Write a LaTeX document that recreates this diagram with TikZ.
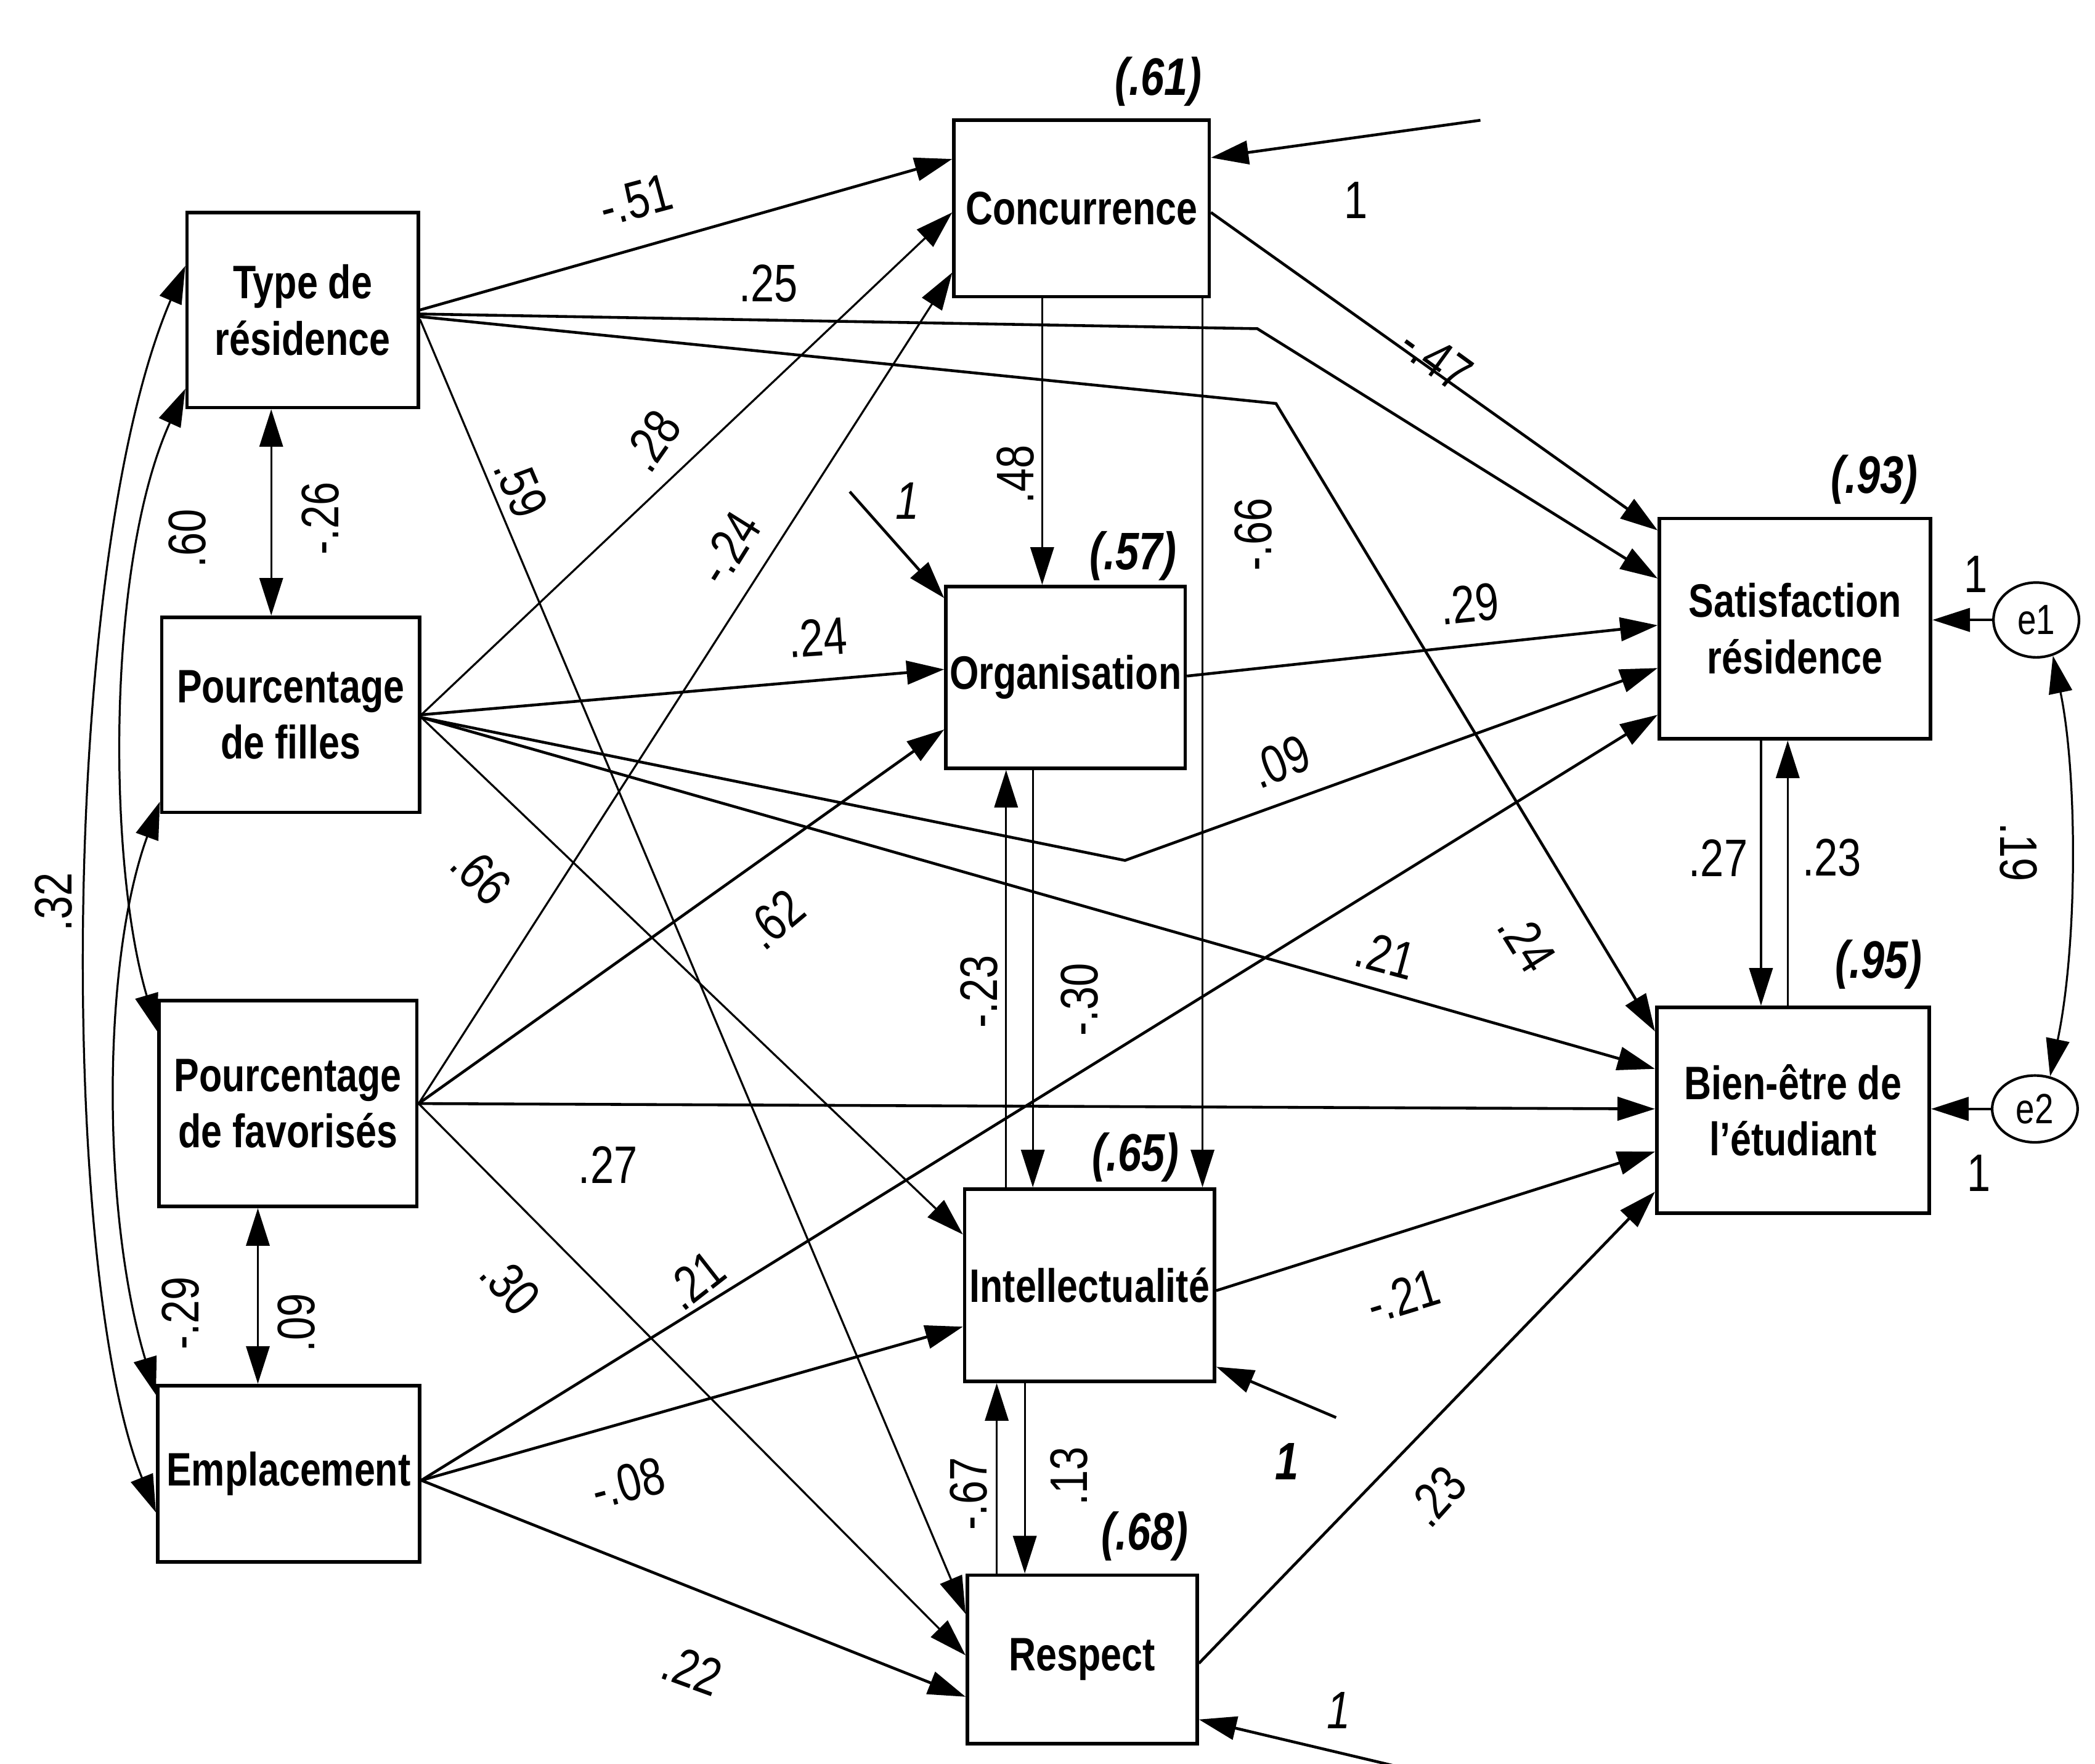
\documentclass[tikz,border=0pt]{standalone}
\usepackage{fontspec}
\setmainfont[FakeStretch=0.8]{Liberation Sans}
\usetikzlibrary{arrows.meta,calc,shapes.geometric}
\begin{document}
\begin{tikzpicture}[x={(0.02cm,0)},y={(0,-0.02cm)},
  box/.style={draw,line width=1.5pt,inner sep=0pt,align=center,font=\fontsize{20}{24}\selectfont\bfseries},
  errc/.style={draw,ellipse,line width=1.1pt,inner sep=0pt,font=\fontsize{18}{20}\selectfont},
  lab/.style={inner sep=0pt,font=\fontsize{22.5}{24}\selectfont},
  rsq/.style={inner sep=0pt,font=\fontsize{22.5}{24}\selectfont\bfseries\itshape},
  conn/.style={line width=1.2pt},
  vline/.style={line width=0.85pt},
  arr/.style={-{Triangle[length=16pt,width=10pt]}},
  darr/.style={{Triangle[length=16pt,width=10pt]}-{Triangle[length=16pt,width=10pt]}},
]
\useasboundingbox (0,0) rectangle (1568,1320);

% boxes
\node[box,minimum width=173*0.02cm,minimum height=146*0.02cm] (TR) at (226.5,232) {Type de\\résidence};
\node[box,minimum width=193*0.02cm,minimum height=146*0.02cm] (PF) at (217.5,535) {Pourcentage\\de filles};
\node[box,minimum width=193*0.02cm,minimum height=154*0.02cm] (PFav) at (215.5,826) {Pourcentage\\de favorisés};
\node[box,minimum width=196*0.02cm,minimum height=132*0.02cm] (EM) at (216,1103) {Emplacement};
\node[box,minimum width=191*0.02cm,minimum height=132*0.02cm] (CO) at (809.5,156) {Concurrence};
\node[box,minimum width=179*0.02cm,minimum height=136*0.02cm] (OR) at (797.5,507) {Organisation};
\node[box,minimum width=187*0.02cm,minimum height=144*0.02cm] (IN) at (815.5,962) {Intellectualité};
\node[box,minimum width=172*0.02cm,minimum height=126*0.02cm] (RE) at (810,1242) {Respect};
\node[box,minimum width=203*0.02cm,minimum height=165*0.02cm] (SR) at (1343.5,470.5) {Satisfaction\\résidence};
\node[box,minimum width=204*0.02cm,minimum height=154*0.02cm] (BE) at (1342,831) {Bien-être de\\l’étudiant};
\node[errc,minimum width=64*0.02cm,minimum height=56*0.02cm] (e1) at (1524,464) {e1};
\node[errc,minimum width=64*0.02cm,minimum height=50*0.02cm] (e2) at (1523,830) {e2};

% free ends and bends
\coordinate (bTRSR) at (941,246);
\coordinate (bTRBE) at (955,302);
\coordinate (bPFSR) at (842,644);
\coordinate (eCO) at (1108,90);
\coordinate (eOR) at (636,368);
\coordinate (eIN) at (1000,1061);
\coordinate (eRE) at (1045,1322);

% paths
\draw[conn,arr] (TR.east) -- ($(CO.west)+(0,-37)$);
\draw[conn,arr] ($(TR.east)+(0,3)$) -- (bTRSR) -- ($(SR.west)+(0,-37.5)$);
\draw[conn,arr] ($(TR.east)+(0,5)$) -- (bTRBE) -- ($(BE.west)+(0,-59)$);
\draw[vline,arr] ($(TR.east)+(0,7)$) -- ($(RE.west)+(0,-34)$);
\draw[vline,arr] (PF.east) -- ($(CO.west)+(0,3)$);
\draw[conn,arr] (PF.east) -- ($(OR.west)+(0,-6)$);
\draw[conn,arr] ($(PF.east)+(0,2)$) -- (bPFSR) -- ($(SR.west)+(0,29.5)$);
\draw[conn,arr] ($(PF.east)+(0,2)$) -- ($(BE.west)+(0,-31)$);
\draw[vline,arr] ($(PF.east)+(0,2)$) -- ($(IN.west)+(0,-38)$);
\draw[vline,arr] (PFav.east) -- ($(CO.west)+(0,48)$);
\draw[conn,arr] (PFav.east) -- ($(OR.west)+(0,39)$);
\draw[conn,arr] (PFav.east) -- ($(BE.west)+(0,-1)$);
\draw[vline,arr] (PFav.east) -- ($(RE.west)+(0,-3)$);
\draw[conn,arr] ($(EM.east)+(0,5)$) -- ($(SR.west)+(0,64.5)$);
\draw[conn,arr] ($(EM.east)+(0,5)$) -- ($(IN.west)+(0,31)$);
\draw[conn,arr] ($(EM.east)+(0,5)$) -- ($(RE.west)+(0,28)$);
\draw[conn,arr] ($(CO.east)+(0,3)$) -- ($(SR.west)+(0,-73.5)$);
\draw[vline,arr] ($(CO.south)+(-29.5,0)$) -- ($(OR.north)+(-17.5,0)$);
\draw[vline,arr] ($(CO.south)+(90.5,0)$) -- ($(IN.north)+(84.5,0)$);
\draw[conn,arr] (eCO) -- ($(CO.east)+(0,-38)$);
\draw[conn,arr] ($(OR.east)+(0,-1)$) -- ($(SR.west)+(0,-2.5)$);
\draw[vline,arr] ($(OR.south)+(-24.5,0)$) -- ($(IN.north)+(-42.5,0)$);
\draw[vline,arr] ($(IN.north)+(-62.5,0)$) -- ($(OR.south)+(-44.5,0)$);
\draw[conn,arr] (eOR) -- ($(OR.north west)+(0,10)$);
\draw[conn,arr] ($(IN.east)+(0,4)$) -- ($(BE.west)+(0,31)$);
\draw[vline,arr] ($(IN.south)+(-48.5,0)$) -- ($(RE.north)+(-43,0)$);
\draw[vline,arr] ($(RE.north)+(-64,0)$) -- ($(IN.south)+(-69.5,0)$);
\draw[conn,arr] (eIN) -- ($(IN.east)+(0,61)$);
\draw[conn,arr] ($(RE.east)+(0,3)$) -- ($(BE.west)+(0,61)$);
\draw[conn,arr] (eRE) -- ($(RE.east)+(0,45)$);
\draw[vline,arr] ($(SR.south)+(-25.5,0)$) -- ($(BE.north)+(-24,0)$);
\draw[vline,arr] ($(BE.north)+(-4,0)$) -- ($(SR.south)+(-5.5,0)$);
\draw[conn,arr] (e1.west) -- (e1.west -| SR.east);
\draw[conn,arr] (e2.west) -- (e2.west -| BE.east);
\draw[vline,darr] (e1.-65) .. controls (1555,580) and (1555,707) .. (e2.65);

% covariances left
\draw[vline,darr] ($(TR.south)+(-23.5,0)$) -- ($(PF.north)+(-14.5,0)$);
\draw[vline,darr] ($(PFav.south)+(-22.5,0)$) -- ($(EM.north)+(-23,0)$);
\draw[vline,darr] ($(TR.west)+(0,-33)$) .. controls (44,420) and (44,952) .. ($(EM.west)+(0,29)$);
\draw[vline,darr] ($(TR.west)+(0,59)$) .. controls (80,420) and (80,644) .. ($(PFav.west)+(0,-54)$);
\draw[vline,darr] ($(PF.west)+(0,65)$) .. controls (76,720) and (76,908) .. ($(EM.west)+(0,-59)$);

% coefficient labels
\node[lab,rotate=15] (l01) at (476,150) {-.51};
\node[lab] (l02) at (575,212) {.25};
\node[lab,rotate=-67] (l03) at (390,365) {.59};
\node[lab,rotate=55] (l04) at (488,330) {.28};
\node[lab,rotate=58] (l05) at (545,410) {-.24};
\node[lab,rotate=4] (l06) at (612,477) {.24};
\node[lab,rotate=22] (l07) at (958,570) {.09};
\node[lab,rotate=-45] (l08) at (360,655) {.66};
\node[lab,rotate=40] (l09) at (580,688) {.62};
\node[lab,rotate=-15] (l10) at (1037,715) {.21};
\node[lab,rotate=-58] (l11) at (1143,705) {.24};
\node[lab] (l12) at (455,872) {.27};
\node[lab,rotate=-48] (l13) at (382,962) {.30};
\node[lab,rotate=38] (l14) at (520,958) {.21};
\node[lab,rotate=15] (l15) at (470,1110) {-.08};
\node[lab,rotate=-20] (l16) at (518,1250) {.22};
\node[lab,rotate=-36] (l17) at (1075,268) {-.47};
\node[lab,rotate=90] (l18) at (760,355) {.48};
\node[lab,rotate=90] (l19) at (938,400) {-.66};
\node[lab] (l20) at (1015,150) {1};
\node[lab,rotate=6] (l21) at (1100,452) {.29};
\node[lab,rotate=90] (l22) at (733,742) {-.23};
\node[lab,rotate=90] (l23) at (808,748) {-.30};
\node[lab,font=\fontsize{22.5}{24}\selectfont\itshape] (l24) at (679,375) {1};
\node[lab,rotate=17] (l25) at (1050,970) {-.21};
\node[lab,rotate=90] (l26) at (800,1105) {.13};
\node[lab,rotate=90] (l27) at (725,1118) {-.67};
\node[lab,font=\fontsize{22.5}{24}\selectfont\bfseries\itshape] (l28) at (963,1094) {1};
\node[lab,rotate=48] (l29) at (1075,1120) {.23};
\node[lab,font=\fontsize{22.5}{24}\selectfont\itshape] (l30) at (1002,1280) {1};
\node[lab] (l31) at (1286,642) {.27};
\node[lab] (l32) at (1371,642) {.23};
\node[lab] (l33) at (1479,430) {1};
\node[lab] (l34) at (1481,878) {1};
\node[lab,rotate=-90] (l35) at (1511,638) {.19};
\node[lab,rotate=90] (l36) at (240,388) {-.26};
\node[lab,rotate=90] (l37) at (140,403) {.60};
\node[lab,rotate=90] (l38) at (40,675) {.32};
\node[lab,rotate=90] (l39) at (135,983) {-.29};
\node[lab,rotate=90] (l40) at (222,990) {.09};

% squared multiple correlations
\node[rsq] (r1) at (867,61) {(.61)};
\node[rsq] (r2) at (848,416) {(.57)};
\node[rsq] (r3) at (850,866) {(.65)};
\node[rsq] (r4) at (857,1150) {(.68)};
\node[rsq] (r5) at (1403,359) {(.93)};
\node[rsq] (r6) at (1406,722) {(.95)};
\end{tikzpicture}
\end{document}
